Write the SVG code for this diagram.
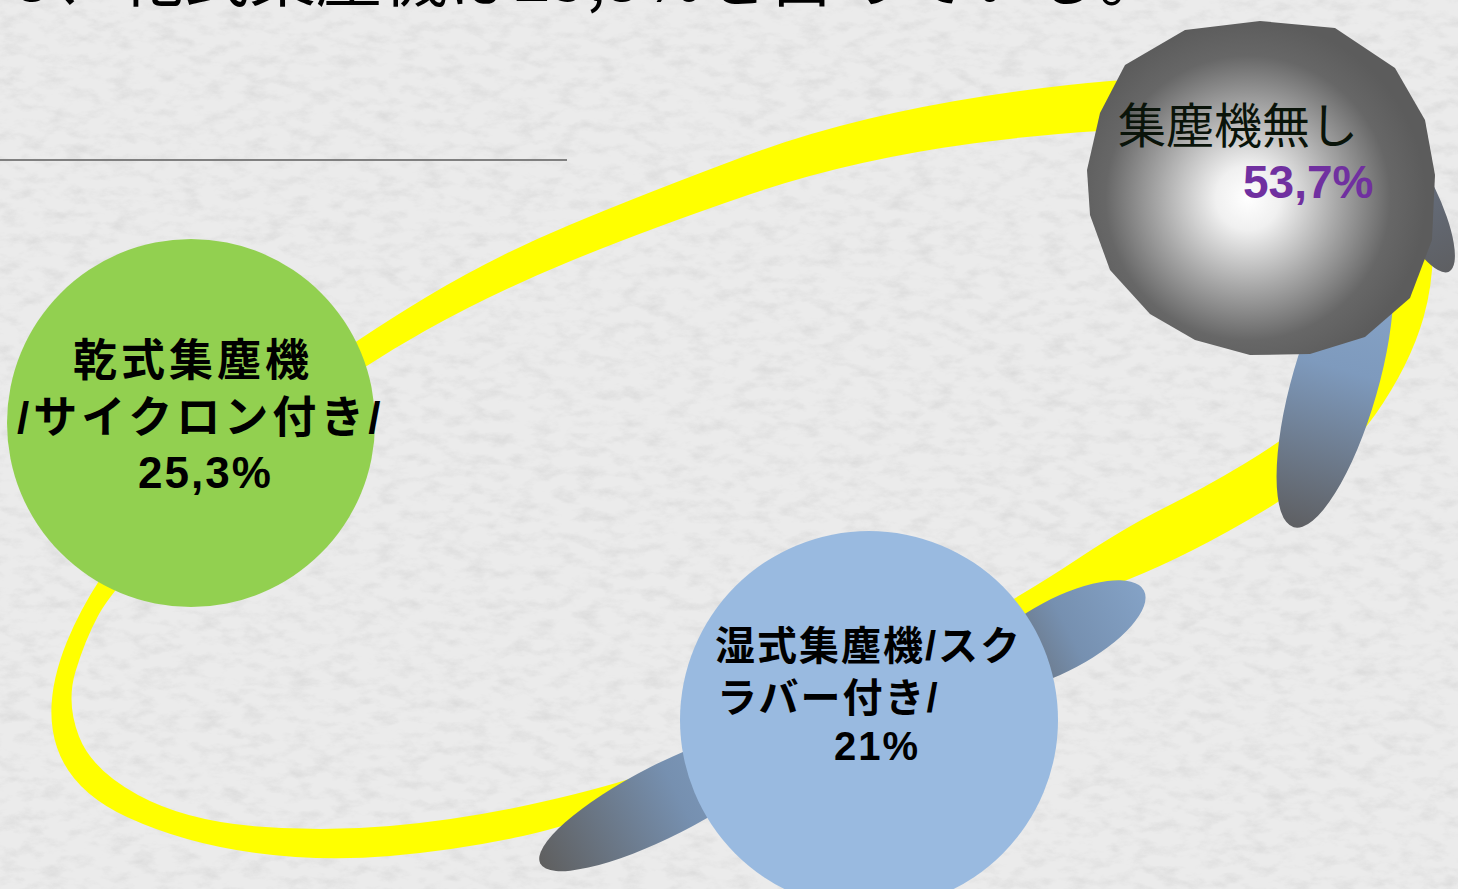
<svg xmlns="http://www.w3.org/2000/svg" width="1458" height="889" viewBox="0 0 1458 889">
  <style>
    .bold { font-family: "Liberation Sans", "Noto Sans CJK JP", sans-serif; font-weight: bold; fill: #000; }
    .purple { fill: #7030a0; }
    .reg { font-family: "Noto Sans CJK JP", sans-serif; font-weight: normal; fill: #0a140a; }
  </style>
  <defs>
    <filter id="tex" x="0" y="0" width="100%" height="100%">
      <feTurbulence type="fractalNoise" baseFrequency="0.045 0.09" numOctaves="4" seed="7"/>
      <feColorMatrix type="matrix" values="0 0 0 0 0.5  0 0 0 0 0.5  0 0 0 0 0.5  1.4 0 0 0 -0.62"/>
    </filter>
    <radialGradient id="sphere" gradientUnits="userSpaceOnUse" cx="1248" cy="198" r="178">
      <stop offset="0" stop-color="#ffffff"/>
      <stop offset="0.18" stop-color="#f0f0f0"/>
      <stop offset="0.5" stop-color="#a8a8a8"/>
      <stop offset="0.8" stop-color="#676767"/>
      <stop offset="1" stop-color="#5c5c5c"/>
    </radialGradient>
    <linearGradient id="bladeV" x1="0" y1="0" x2="0" y2="1">
      <stop offset="0" stop-color="#8aa8cc"/>
      <stop offset="0.45" stop-color="#7e9abd"/>
      <stop offset="1" stop-color="#5e5f62"/>
    </linearGradient>
    <linearGradient id="bladeH" x1="0" y1="0" x2="1" y2="0">
      <stop offset="0" stop-color="#5f5f5f"/>
      <stop offset="0.55" stop-color="#7690b0"/>
      <stop offset="1" stop-color="#84a2c6"/>
    </linearGradient>
    <linearGradient id="bladeS" x1="0" y1="0" x2="0" y2="1">
      <stop offset="0" stop-color="#6a7890"/>
      <stop offset="1" stop-color="#5e5f62"/>
    </linearGradient>
  </defs>

  <rect x="0" y="0" width="1458" height="889" fill="#ebebeb"/>
  <rect x="0" y="0" width="1458" height="889" filter="url(#tex)" opacity="0.45"/>

  <text font-family="'Noto Sans CJK JP', sans-serif" x="15" y="1" font-size="66" fill="#000">3、乾式集塵機は25,3%を占めている。</text>
  <line x1="0" y1="160" x2="567" y2="160" stroke="#808080" stroke-width="2"/>

  <g id="connectors">
    <path fill="#ffff00" fill-rule="evenodd" d="M 985.5 96 Q 1121 75 1220.5 77.5 Q 1320 80 1372.5 122.5 Q 1425 165 1431 217.5 Q 1437 270 1423.5 317.5 Q 1410 365 1375 415 Q 1340 465 1265 510 Q 1190 555 1127 580 Q 1064 605 947 666 Q 830 727 708.5 774.5 Q 587 822 523 836 Q 459 850 390 856 Q 321 862 252.5 852.5 Q 184 843 128 817.5 Q 72 792 57 747.5 Q 42 703 67 641.5 Q 92 580 151 512.5 Q 210 445 285 391 Q 360 337 426.5 297 Q 493 257 569.5 225 Q 646 193 748 155 Q 850 117 985.5 96 Z M 972.5 143.5 Q 1095 127 1192.5 128.5 Q 1290 130 1337.5 165 Q 1385 200 1387.5 250 Q 1390 300 1367 345 Q 1344 390 1314 415 Q 1284 440 1244 464 Q 1204 488 1164 508 Q 1124 528 1074.5 561 Q 1025 594 937.5 642.5 Q 850 690 768 725 Q 686 760 641.5 775 Q 597 790 528 805 Q 459 820 390 826 Q 321 832 252.5 826 Q 184 820 138 795 Q 92 770 79 736.5 Q 66 703 75.5 671.5 Q 85 640 98.5 615 Q 112 590 171 527.5 Q 230 465 295 416 Q 360 367 426.5 330 Q 493 293 569.5 261.5 Q 646 230 748 195 Q 850 160 972.5 143.5 Z"/>
  </g>

  <g id="node-dry">
    <circle cx="191" cy="423" r="184" fill="#92d050"/>
    <text class="bold" font-size="44" letter-spacing="4" x="73" y="376">乾式集塵機</text>
    <text class="bold" font-size="44" letter-spacing="4" x="17" y="433">/サイクロン付き/</text>
    <text class="bold" font-size="44" letter-spacing="2" x="138" y="488">25,3%</text>
  </g>

  <g id="node-wet">
    <ellipse cx="1060" cy="635" rx="95" ry="36" transform="rotate(-28 1060 635)" fill="url(#bladeH)"/>
    <ellipse cx="665" cy="800" rx="140" ry="36" transform="rotate(-27 665 800)" fill="url(#bladeH)"/>
    <ellipse cx="869" cy="720" rx="189" ry="189" fill="#99bae0"/>
    <text class="bold" font-size="40" letter-spacing="2" x="715" y="660">湿式集塵機/スク</text>
    <text class="bold" font-size="40" letter-spacing="2" x="717" y="712">ラバー付き/</text>
    <text class="bold" font-size="40" letter-spacing="2" x="834" y="760">21%</text>
  </g>

  <g id="node-none">
    <ellipse cx="1335" cy="383" rx="43" ry="150" transform="rotate(16 1335 383)" fill="url(#bladeV)"/>
    <ellipse cx="1413" cy="198" rx="24" ry="82" transform="rotate(-26 1413 198)" fill="url(#bladeS)"/>
    <polygon fill="url(#sphere)" points="1260,21 1335,28 1395,68 1425,120 1435,175 1432,240 1410,298 1365,337 1310,354 1250,355 1195,340 1150,314 1110,270 1090,215 1087,170 1100,113 1125,65 1185,30"/>
    <text class="reg" font-size="48" x="1118" y="143">集塵機無し</text>
    <text class="bold purple" font-size="46" x="1243" y="198">53,7%</text>
  </g>
</svg>
